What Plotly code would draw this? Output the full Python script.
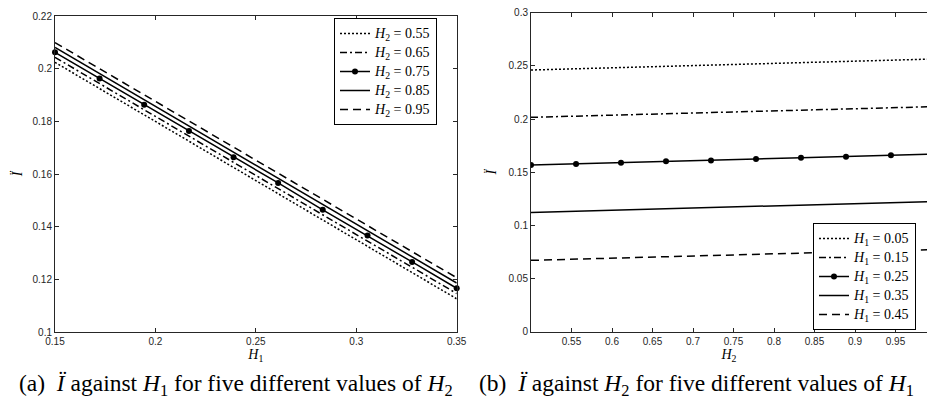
import plotly.graph_objects as go

# ---------------- data ----------------
# panel (a): I'' against H1 for five values of H2
h1_vals = [0.15, 0.1722, 0.1944, 0.2167, 0.2389, 0.2611, 0.2833, 0.3056, 0.3278, 0.35]
a_names = ["0.55", "0.65", "0.75", "0.85", "0.95"]
a_h2_055 = [0.2024, 0.1924, 0.1824, 0.1725, 0.1625, 0.1525, 0.1425, 0.1325, 0.1226, 0.1126]
a_h2_065 = [0.2043, 0.1943, 0.1844, 0.1744, 0.1644, 0.1545, 0.1445, 0.1345, 0.1246, 0.1146]
a_h2_075 = [0.2062, 0.1963, 0.1863, 0.1763, 0.1664, 0.1566, 0.1464, 0.1366, 0.1266, 0.1166]
a_h2_085 = [0.2081, 0.1982, 0.1882, 0.1783, 0.1683, 0.1584, 0.1484, 0.1385, 0.1285, 0.1186]
a_h2_095 = [0.2099, 0.2000, 0.1900, 0.1801, 0.1702, 0.1603, 0.1503, 0.1404, 0.1305, 0.1206]

# panel (b): I'' against H2 for five values of H1
h2_vals = [0.5, 0.5556, 0.6111, 0.6667, 0.7222, 0.7778, 0.8333, 0.8889, 0.9444, 1.0]
b_names = ["0.05", "0.15", "0.25", "0.35", "0.45"]
b_h1_005 = [0.2461, 0.2473, 0.2484, 0.2496, 0.2507, 0.2519, 0.2530, 0.2542, 0.2553, 0.2565]
b_h1_015 = [0.2016, 0.2027, 0.2038, 0.2050, 0.2061, 0.2072, 0.2083, 0.2094, 0.2106, 0.2117]
b_h1_025 = [0.1567, 0.1577, 0.1589, 0.1602, 0.1611, 0.1624, 0.1636, 0.1646, 0.1659, 0.1671]
b_h1_035 = [0.1122, 0.1133, 0.1145, 0.1156, 0.1168, 0.1179, 0.1190, 0.1202, 0.1213, 0.1225]
b_h1_045 = [0.0671, 0.0682, 0.0694, 0.0705, 0.0716, 0.0728, 0.0739, 0.0750, 0.0762, 0.0773]

a_ticks_x = [0.15, 0.2, 0.25, 0.3, 0.35]
a_ticks_y = [0.1, 0.12, 0.14, 0.16, 0.18, 0.2, 0.22]
b_ticks_x = [0.55, 0.6, 0.65, 0.7, 0.75, 0.8, 0.85, 0.9, 0.95]
b_ticks_y = [0, 0.05, 0.1, 0.15, 0.2, 0.25, 0.3]

# ---------------- styling ----------------
W, H = 927, 409
INK = "#262626"
styles = [
    dict(dash="2px,2px", marker=False),
    dict(dash="7px,3px,2px,3px", marker=False),
    dict(dash="solid", marker=True),
    dict(dash="solid", marker=False),
    dict(dash="8px,5px", marker=False),
]
SERIF = "Liberation Serif"
SANS = "Liberation Sans"


def leg_label(sub, val):
    return ('<span style="font-size:14px"><i>H</i><sub>' + sub +
            '</sub>&nbsp;=&nbsp;' + val + '</span>')


fig = go.Figure()

a_series = [a_h2_055, a_h2_065, a_h2_075, a_h2_085, a_h2_095]
b_series = [b_h1_005, b_h1_015, b_h1_025, b_h1_035, b_h1_045]

for name, ys, st in zip(a_names, a_series, styles):
    fig.add_trace(go.Scatter(
        x=h1_vals, y=ys, xaxis="x", yaxis="y", legend="legend",
        name=leg_label("2", name),
        mode="lines+markers" if st["marker"] else "lines",
        line=dict(color="black", width=1.5, dash=st["dash"]),
        marker=dict(color="black", size=6, symbol="circle"),
        cliponaxis=False,
    ))

for name, ys, st in zip(b_names, b_series, styles):
    fig.add_trace(go.Scatter(
        x=h2_vals, y=ys, xaxis="x2", yaxis="y2", legend="legend2",
        name=leg_label("1", name),
        mode="lines+markers" if st["marker"] else "lines",
        line=dict(color="black", width=1.5, dash=st["dash"]),
        marker=dict(color="black", size=6, symbol="circle"),
        cliponaxis=True,
    ))

axis_common = dict(
    showgrid=False, zeroline=False, showline=True, linecolor=INK, linewidth=1,
    ticks="inside", ticklen=4, tickwidth=1, tickcolor=INK,
    tickfont=dict(family=SANS, size=10, color=INK), automargin=False,
)

xa_dom = [55 / W, 456.7 / W]
ya_dom = [1 - 332 / H, 1 - 16 / H]
xb_dom = [531 / W, 1.0]
yb_dom = [1 - 331.7 / H, 1 - 12.7 / H]
xb_max = 0.5 + (W - 531) / 810.0

legend_common = dict(
    bgcolor="white", bordercolor="black", borderwidth=1,
    font=dict(family=SERIF, size=12, color="black"),
    tracegroupgap=0, itemwidth=30, traceorder="normal",
    yanchor="top", xanchor="right",
)

title_font = dict(family=SERIF, size=14, color="black")

fig.update_layout(
    width=W, height=H, margin=dict(l=0, r=0, t=0, b=0),
    paper_bgcolor="white", plot_bgcolor="white",
    xaxis=dict(domain=xa_dom, anchor="y", range=[0.15, 0.35], tickvals=a_ticks_x,
               ticktext=[f"{v:g}" for v in a_ticks_x], mirror="ticks",
               title=dict(text="<i>H</i><sub>1</sub>", font=title_font, standoff=1),
               **axis_common),
    yaxis=dict(domain=ya_dom, anchor="x", range=[0.1, 0.22], tickvals=a_ticks_y,
               ticktext=[f"{v:g}" for v in a_ticks_y], mirror="ticks",
               title=dict(text="<i>Ï</i>", font=title_font, standoff=6),
               **axis_common),
    xaxis2=dict(domain=xb_dom, anchor="y2", range=[0.5, xb_max], tickvals=b_ticks_x,
                ticktext=[f"{v:g}" for v in b_ticks_x], mirror="ticks",
                title=dict(text="<i>H</i><sub>2</sub>", font=title_font, standoff=1),
                **axis_common),
    yaxis2=dict(domain=yb_dom, anchor="x2", range=[0, 0.3], tickvals=b_ticks_y,
                ticktext=[f"{v:g}" for v in b_ticks_y], mirror=False,
                title=dict(text="<i>Ï</i>", font=title_font, standoff=8),
                **axis_common),
    legend=dict(x=437 / W, y=1 - 18 / H, **legend_common),
    legend2=dict(x=916 / W, y=1 - 223 / H, **legend_common),
    showlegend=True,
    annotations=[
        dict(text="(a)  <i>Ï</i> against <i>H</i><sub>1</sub> for five different values of <i>H</i><sub>2</sub>",
             xref="paper", yref="paper", x=17 / W, y=1 - 385 / H, xanchor="left", yanchor="middle",
             showarrow=False, font=dict(family=SERIF, size=23.5, color="black")),
        dict(text="(b)  <i>Ï</i> against <i>H</i><sub>2</sub> for five different values of <i>H</i><sub>1</sub>",
             xref="paper", yref="paper", x=477 / W, y=1 - 385 / H, xanchor="left", yanchor="middle",
             showarrow=False, font=dict(family=SERIF, size=23.5, color="black")),
    ],
)

fig.write_html("out.html")
